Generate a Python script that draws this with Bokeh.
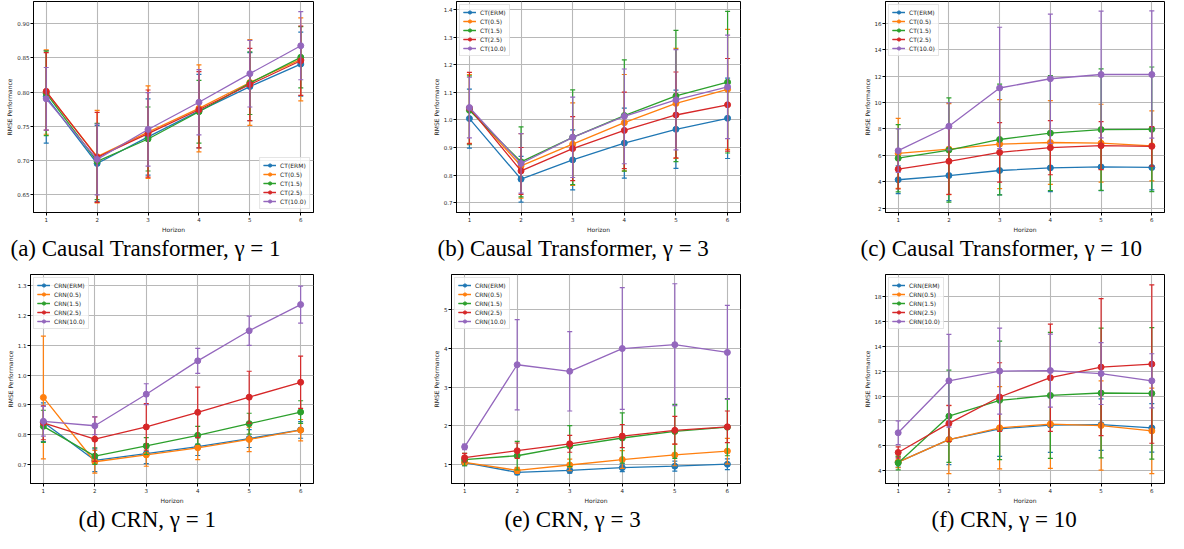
from bokeh.plotting import figure
from bokeh.layouts import column, row
from bokeh.models import (FixedTicker, PrintfTickFormatter, Range1d, Legend,
                          LegendItem, Title)
from bokeh.embed import file_html
from bokeh.resources import INLINE

HORIZON = [1, 2, 3, 4, 5, 6]
CT_LABELS = ["CT(ERM)", "CT(0.5)", "CT(1.5)", "CT(2.5)", "CT(10.0)"]
CRN_LABELS = ["CRN(ERM)", "CRN(0.5)", "CRN(1.5)", "CRN(2.5)", "CRN(10.0)"]
COLORS = ["#1f77b4", "#ff7f0e", "#2ca02c", "#d62728", "#9467bd"]

# (a) Causal Transformer, gamma = 1
A_MEAN = [
    [0.793, 0.695, 0.734, 0.772, 0.808, 0.841],
    [0.800, 0.705, 0.741, 0.776, 0.814, 0.848],
    [0.798, 0.698, 0.731, 0.771, 0.813, 0.851],
    [0.801, 0.704, 0.739, 0.774, 0.811, 0.846],
    [0.790, 0.701, 0.745, 0.785, 0.827, 0.868],
]
A_STD = [
    [0.068, 0.056, 0.056, 0.054, 0.050, 0.047],
    [0.062, 0.068, 0.068, 0.064, 0.063, 0.061],
    [0.062, 0.056, 0.047, 0.046, 0.046, 0.045],
    [0.057, 0.066, 0.064, 0.056, 0.053, 0.051],
    [0.046, 0.052, 0.054, 0.048, 0.049, 0.050],
]
# (b) Causal Transformer, gamma = 3
B_MEAN = [
    [1.005, 0.785, 0.855, 0.916, 0.966, 1.006],
    [1.040, 0.833, 0.912, 0.990, 1.060, 1.111],
    [1.035, 0.848, 0.937, 1.016, 1.087, 1.137],
    [1.043, 0.815, 0.896, 0.962, 1.018, 1.055],
    [1.045, 0.842, 0.937, 1.013, 1.073, 1.120],
]
B_STD = [
    [0.107, 0.083, 0.109, 0.127, 0.142, 0.146],
    [0.125, 0.117, 0.150, 0.175, 0.200, 0.218],
    [0.125, 0.127, 0.172, 0.202, 0.238, 0.257],
    [0.130, 0.085, 0.116, 0.139, 0.156, 0.168],
    [0.110, 0.108, 0.146, 0.172, 0.182, 0.188],
]
# (c) Causal Transformer, gamma = 10
C_MEAN = [
    [4.15, 4.47, 4.85, 5.05, 5.12, 5.08],
    [6.15, 6.47, 6.85, 6.97, 6.92, 6.72],
    [5.78, 6.40, 7.20, 7.68, 7.95, 7.97],
    [4.95, 5.55, 6.22, 6.58, 6.73, 6.68],
    [6.35, 8.20, 11.10, 11.80, 12.12, 12.12],
]
C_STD = [
    [1.05, 1.90, 1.85, 1.80, 1.80, 1.70],
    [2.65, 3.45, 3.37, 3.17, 2.95, 2.65],
    [2.55, 3.95, 4.20, 4.35, 4.60, 4.72],
    [1.50, 2.50, 2.25, 2.05, 1.82, 1.50],
    [1.65, 1.78, 4.60, 4.90, 4.80, 4.82],
]
# (d) CRN, gamma = 1
D_MEAN = [
    [0.842, 0.714, 0.736, 0.760, 0.787, 0.816],
    [0.925, 0.709, 0.732, 0.756, 0.784, 0.815],
    [0.828, 0.728, 0.762, 0.798, 0.837, 0.876],
    [0.840, 0.785, 0.826, 0.875, 0.926, 0.976],
    [0.845, 0.830, 0.936, 1.048, 1.149, 1.237],
]
D_STD = [
    [0.065, 0.038, 0.033, 0.030, 0.030, 0.028],
    [0.206, 0.038, 0.038, 0.040, 0.041, 0.036],
    [0.054, 0.028, 0.028, 0.030, 0.035, 0.038],
    [0.057, 0.075, 0.078, 0.085, 0.087, 0.088],
    [0.050, 0.030, 0.035, 0.042, 0.049, 0.062],
]
# (e) CRN, gamma = 3
E_MEAN = [
    [1.04, 0.79, 0.84, 0.91, 0.95, 1.00],
    [1.05, 0.84, 0.98, 1.12, 1.24, 1.34],
    [1.12, 1.22, 1.47, 1.68, 1.85, 1.96],
    [1.17, 1.35, 1.53, 1.73, 1.88, 1.97],
    [1.45, 3.58, 3.41, 4.00, 4.10, 3.90],
]
E_STD = [
    [0.08, 0.06, 0.07, 0.10, 0.13, 0.14],
    [0.08, 0.08, 0.15, 0.23, 0.28, 0.33],
    [0.16, 0.37, 0.53, 0.65, 0.70, 0.74],
    [0.11, 0.20, 0.22, 0.30, 0.36, 0.41],
    [0.07, 1.17, 1.03, 1.58, 1.58, 1.22],
]
# (f) CRN, gamma = 10
F_MEAN = [
    [4.70, 6.50, 7.37, 7.67, 7.70, 7.44],
    [4.70, 6.50, 7.45, 7.75, 7.63, 7.20],
    [4.63, 8.38, 9.65, 10.05, 10.24, 10.21],
    [5.47, 7.80, 9.92, 11.47, 12.32, 12.56],
    [7.05, 11.22, 12.00, 12.04, 11.80, 11.22],
]
F_STD = [
    [0.40, 2.00, 2.22, 2.20, 2.07, 1.95],
    [0.45, 2.72, 3.30, 3.55, 3.58, 3.43],
    [0.55, 3.70, 4.75, 5.05, 5.20, 5.27],
    [0.45, 1.45, 2.75, 4.30, 5.50, 6.35],
    [0.95, 3.72, 3.45, 2.93, 2.48, 2.17],
]

Y_RANGES = [(0.623, 0.933), (0.664, 1.430), (1.67, 17.65),
            (0.636, 1.338), (0.50, 5.92), (2.98, 19.75)]
Y_TICKS = [
    [0.65, 0.70, 0.75, 0.80, 0.85, 0.90],
    [0.7, 0.8, 0.9, 1.0, 1.1, 1.2, 1.3, 1.4],
    [2, 4, 6, 8, 10, 12, 14, 16],
    [0.7, 0.8, 0.9, 1.0, 1.1, 1.2, 1.3],
    [1, 2, 3, 4, 5],
    [4, 6, 8, 10, 12, 14, 16, 18],
]
Y_FORMATS = ["%.2f", "%.1f", "%d", "%.1f", "%d", "%d"]
CAPTIONS = [
    "(a) Causal Transformer, γ = 1",
    "(b) Causal Transformer, γ = 3",
    "(c) Causal Transformer, γ = 10",
    "(d) CRN, γ = 1",
    "(e) CRN, γ = 3",
    "(f) CRN, γ = 10",
]

TICK_FONT = "DejaVu Sans"


def make_panel(means, stds, labels, yr, yticks, fmt, caption, legend_loc,
               width, height, bl, br, bt, cap_offset):
    p = figure(width=width, height=height,
               x_range=Range1d(0.75, 6.25), y_range=Range1d(*yr),
               output_backend="svg", toolbar_location=None,
               min_border_left=bl, min_border_right=br,
               min_border_top=bt, min_border_bottom=0)
    p.background_fill_color = "white"
    p.border_fill_color = "white"
    p.outline_line_color = "black"
    p.outline_line_width = 1

    p.xaxis.ticker = FixedTicker(ticks=HORIZON)
    p.yaxis.ticker = FixedTicker(ticks=yticks)
    p.yaxis.formatter = PrintfTickFormatter(format=fmt)
    p.xaxis.axis_label = "Horizon"
    p.yaxis.axis_label = "RMSE Performance"
    for ax in (p.xaxis, p.yaxis):
        ax.axis_line_color = "black"
        ax.axis_line_width = 1
        ax.major_tick_out = 3
        ax.major_tick_in = 0
        ax.major_tick_line_color = "black"
        ax.minor_tick_line_color = None
        ax.major_label_text_font = TICK_FONT
        ax.major_label_text_font_size = "5.5px"
        ax.major_label_text_color = "#262626"
        ax.major_label_standoff = 1
        ax.axis_label_text_font = TICK_FONT
        ax.axis_label_text_font_size = "6px"
        ax.axis_label_text_font_style = "normal"
        ax.axis_label_text_color = "#262626"
        ax.axis_label_standoff = 1
    p.grid.grid_line_color = "#b8b8b8"
    p.grid.grid_line_width = 1.1

    items = []
    for k in range(len(means)):
        m = means[k]
        s = stds[k]
        lo = [a - b for a, b in zip(m, s)]
        hi = [a + b for a, b in zip(m, s)]
        c = COLORS[k]
        seg = p.segment(x0=HORIZON, y0=lo, x1=HORIZON, y1=hi,
                        line_color=c, line_width=1.2)
        p.scatter(x=HORIZON, y=lo, marker="dash", size=5,
                  line_color=c, line_width=1.2)
        p.scatter(x=HORIZON, y=hi, marker="dash", size=5,
                  line_color=c, line_width=1.2)
        ln = p.line(x=HORIZON, y=m, line_color=c, line_width=1.3)
        mk = p.scatter(x=HORIZON, y=m, marker="circle", size=6,
                       fill_color=c, line_color=c)
        items.append(LegendItem(label=labels[k], renderers=[ln, seg, mk]))

    legend = Legend(items=items, location=legend_loc)
    legend.label_text_font = TICK_FONT
    legend.label_text_font_size = "6px"
    legend.label_text_color = "#262626"
    legend.glyph_width = 13
    legend.glyph_height = 8
    legend.label_height = 8
    legend.label_standoff = 4
    legend.spacing = 1
    legend.padding = 3
    legend.margin = 3
    legend.border_line_color = "#cccccc"
    legend.border_line_width = 1
    legend.background_fill_alpha = 0.8
    p.add_layout(legend, "center")

    cap = Title(text=caption, align="left", offset=cap_offset,
                vertical_align="top",
                text_font="Liberation Serif", text_font_size="23px",
                text_font_style="normal", text_color="black", standoff=0)
    p.add_layout(cap, "below")
    return p


H1 = 262
H2 = 271
pa = make_panel(A_MEAN, A_STD, CT_LABELS, Y_RANGES[0], Y_TICKS[0], Y_FORMATS[0],
                CAPTIONS[0], "bottom_right", 420, H1, 33, 107, 1, -23)
pb = make_panel(B_MEAN, B_STD, CT_LABELS, Y_RANGES[1], Y_TICKS[1], Y_FORMATS[1],
                CAPTIONS[1], "top_left", 420, H1, 36, 100, 1, -19)
pc = make_panel(C_MEAN, C_STD, CT_LABELS, Y_RANGES[2], Y_TICKS[2], Y_FORMATS[2],
                CAPTIONS[2], "top_left", 328, H1, 45, 4, 1, -25)
pd = make_panel(D_MEAN, D_STD, CRN_LABELS, Y_RANGES[3], Y_TICKS[3], Y_FORMATS[3],
                CAPTIONS[3], "top_left", 420, H2, 30, 107, 12, 48)
pe = make_panel(E_MEAN, E_STD, CRN_LABELS, Y_RANGES[4], Y_TICKS[4], Y_FORMATS[4],
                CAPTIONS[4], "top_left", 420, H2, 31, 100, 12, 53)
pf = make_panel(F_MEAN, F_STD, CRN_LABELS, Y_RANGES[5], Y_TICKS[5], Y_FORMATS[5],
                CAPTIONS[5], "top_left", 328, H2, 45, 4, 12, 46)

layout = column(row(pa, pb, pc), row(pd, pe, pf))
open("out.html", "w").write(file_html(layout, INLINE))
